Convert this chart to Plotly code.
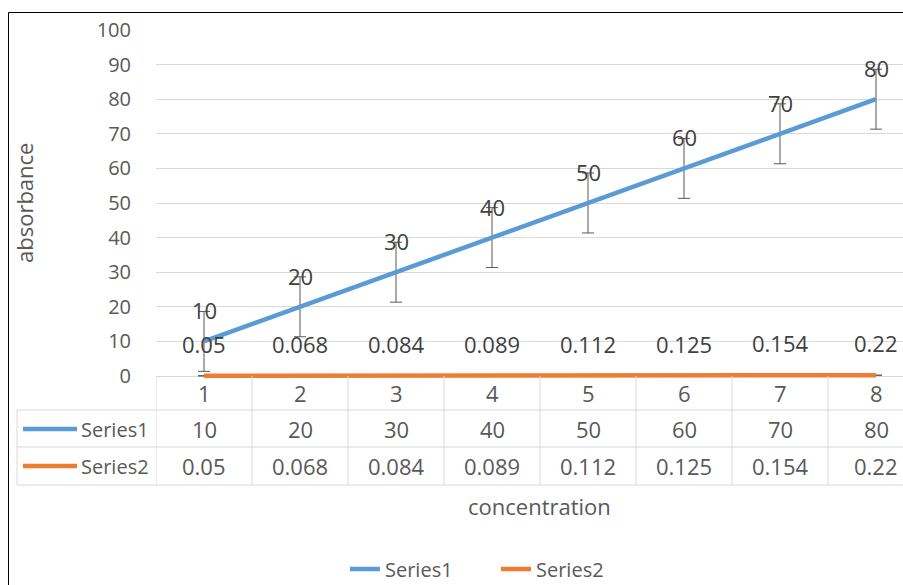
import numpy as np
import plotly.graph_objects as go

categories = [1, 2, 3, 4, 5, 6, 7, 8]
series1 = [10, 20, 30, 40, 50, 60, 70, 80]
series2 = [0.05, 0.068, 0.084, 0.089, 0.112, 0.125, 0.154, 0.22]
series_names = ["Series1", "Series2"]
colors = ["#5B9BD5", "#ED7D31"]
y_ticks = list(range(0, 101, 10))

# standard-error error bars (as Excel does)
def std_err(v):
    a = np.array(v, dtype=float)
    return float(a.std(ddof=1) / np.sqrt(len(a)))

# body margin is removed by the post script, so the figure fills the window
OFF = 0
W, H = 903 - OFF, 585 - OFF
PLOT_L, PLOT_T = 156, 30          # reference pixel of plot left / y=100
Y0 = 376                           # reference pixel of y=0
PX_PER_UNIT = (Y0 - PLOT_T) / 100.0
PLOT_BOT = Y0 + 4                  # extend plot a little below 0 so the line isn't clipped
Y_MIN = -(PLOT_BOT - Y0) / PX_PER_UNIT
L = PLOT_L - OFF
T = PLOT_T - OFF
B = H - (PLOT_BOT - OFF)
R = 0
PW = W - L - R
PH = H - T - B
COL = 96  # px per category

def px_x(px):
    return (px - PLOT_L) / PW

def px_y(py):
    return (PLOT_BOT - py) / PH

TXT = "#595959"
LBL = "#404040"
GRID = "#D9D9D9"
FONT = "Open Sans"
NUM = 22

fig = go.Figure()
for name, vals, col in zip(series_names, [series1, series2], colors):
    fig.add_trace(go.Scatter(
        x=categories, y=vals, name=name, mode="lines",
        line=dict(color=col, width=4.5),
        error_y=dict(type="constant", value=std_err(vals), color="#595959",
                     thickness=1, width=6),
    ))

annotations = []
# data labels
for vals, shift in [(series1, 31), (series2, 32)]:
    for c, v in zip(categories, vals):
        annotations.append(dict(x=c, y=v, xref="x", yref="y", text=str(v),
                                showarrow=False, yshift=shift, yanchor="middle",
                                font=dict(size=NUM, color=LBL, family=FONT)))

# data table
row_centers = [393, 429, 466]
for c in categories:
    annotations.append(dict(x=c, y=px_y(row_centers[0]), xref="x", yref="paper",
                            text=str(c), showarrow=False, yanchor="middle",
                            font=dict(size=NUM, color=TXT, family=FONT)))
for r, vals in enumerate([series1, series2]):
    for c, v in zip(categories, vals):
        annotations.append(dict(x=c, y=px_y(row_centers[r + 1]), xref="x", yref="paper",
                                text=str(v), showarrow=False, yanchor="middle",
                                font=dict(size=NUM, color=TXT, family=FONT)))
    annotations.append(dict(x=px_x(79), y=px_y(row_centers[r + 1]), xref="paper", yref="paper",
                            text=series_names[r], showarrow=False, xanchor="left", yanchor="middle",
                            font=dict(size=20, color=TXT, family=FONT)))

# axis titles
annotations.append(dict(x=px_x(24), y=px_y(203), xref="paper", yref="paper", text="absorbance",
                        textangle=-90, showarrow=False, xanchor="center", yanchor="middle",
                        font=dict(size=22, color=TXT, family=FONT)))
annotations.append(dict(x=px_x(539), y=px_y(506), xref="paper", yref="paper", text="concentration",
                        showarrow=False, xanchor="center", yanchor="middle",
                        font=dict(size=22, color=TXT, family=FONT)))

shapes = []
# table horizontal lines
for py in [410, 447, 485]:
    shapes.append(dict(type="line", xref="paper", yref="paper", x0=px_x(17), x1=1.05,
                       y0=px_y(py), y1=px_y(py), line=dict(color=GRID, width=1)))
# table vertical lines
shapes.append(dict(type="line", xref="paper", yref="paper", x0=px_x(17), x1=px_x(17),
                   y0=px_y(410), y1=px_y(485), line=dict(color=GRID, width=1)))
for c in [0.5] + [k + 0.5 for k in categories]:
    shapes.append(dict(type="line", xref="x", yref="paper", x0=c, x1=c,
                       y0=px_y(Y0), y1=px_y(485), line=dict(color=GRID, width=1)))
# legend keys inside table
for r, col in enumerate(colors):
    shapes.append(dict(type="line", xref="paper", yref="paper", x0=px_x(23), x1=px_x(77),
                       y0=px_y(row_centers[r + 1]), y1=px_y(row_centers[r + 1]),
                       line=dict(color=col, width=4.5)))
# chart border
shapes.append(dict(type="rect", xref="paper", yref="paper", x0=px_x(8.5), x1=1.2,
                   y0=-1.0, y1=px_y(12.5), line=dict(color="#000000", width=1)))

fig.update_layout(
    width=W, height=H,
    margin=dict(l=L, r=R, t=T, b=B, autoexpand=False),
    paper_bgcolor="white", plot_bgcolor="white",
    font=dict(family=FONT, color=TXT, size=20),
    xaxis=dict(range=[0.5, 0.5 + PW / COL], showticklabels=False, showgrid=False,
               zeroline=False, showline=False, fixedrange=True),
    yaxis=dict(range=[Y_MIN, 100], tickvals=y_ticks, gridcolor=GRID, gridwidth=1,
               zeroline=False, showline=False, ticks="outside", ticklen=20,
               tickcolor="rgba(0,0,0,0)", tickfont=dict(size=20, color=TXT, family=FONT)),
    showlegend=True,
    legend=dict(orientation="h", x=px_x(345), xanchor="left", y=px_y(569), yanchor="middle",
                entrywidth=106, entrywidthmode="pixels",
                font=dict(size=20, color=TXT, family=FONT), bgcolor="rgba(0,0,0,0)"),
    annotations=annotations,
    shapes=shapes,
)

fig.write_html(
    "out.html",
    config={"displayModeBar": False},
    post_script="document.body.style.margin='0';"
                "document.documentElement.style.overflow='hidden';"
                "document.body.style.overflow='hidden';",
)
